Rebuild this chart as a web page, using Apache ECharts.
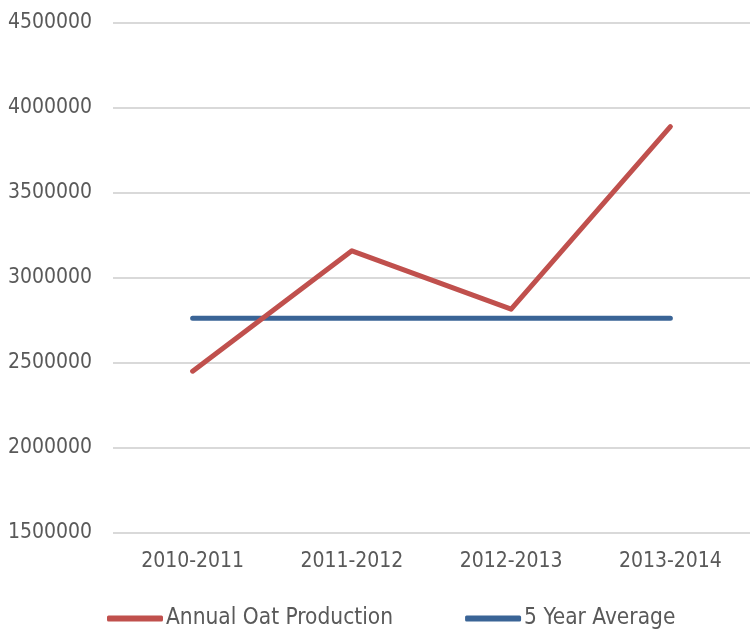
<!DOCTYPE html>
<html>
<head>
<meta charset="utf-8">
<script src="https://cdn.jsdelivr.net/npm/echarts@6/dist/echarts.min.js"></script>
<style>html,body{margin:0;padding:0;background:#fff}#c{width:755px;height:633px}</style>
</head>
<body>
<div id="c"></div>
<script>
var categories = ["2010-2011", "2011-2012", "2012-2013", "2013-2014"];
var annualOatProduction = [2452000, 3160000, 2817000, 3890000];
var fiveYearAverage = [2763000, 2763000, 2763000, 2763000];
var seriesNames = ["Annual Oat Production", "5 Year Average"];

var FONT = "'DejaVu Sans Condensed', 'Liberation Sans Narrow', sans-serif";
var chart = echarts.init(document.getElementById('c'), null, {renderer: 'canvas'});
chart.setOption({
  animation: false,
  backgroundColor: '#ffffff',
  grid: {left: 113, right: 5, top: 23, bottom: 100, containLabel: false, outerBoundsMode: 'none'},
  legend: {
    top: 607,
    left: 107,
    padding: 0,
    itemWidth: 56,
    itemHeight: 6,
    itemGap: 72,
    icon: 'roundRect',
    textStyle: {fontFamily: FONT, fontSize: 22.5, color: '#595959', padding: [0, 0, 0, -2]},
    data: seriesNames
  },
  xAxis: {
    type: 'category',
    data: categories,
    boundaryGap: true,
    axisLine: {show: false},
    axisTick: {show: false},
    axisLabel: {fontFamily: FONT, fontSize: 21, color: '#595959', margin: 18}
  },
  yAxis: {
    type: 'value',
    min: 1500000,
    max: 4500000,
    interval: 500000,
    axisLine: {show: false},
    axisTick: {show: false},
    axisLabel: {fontFamily: FONT, fontSize: 21, color: '#595959', margin: 21, formatter: function (v) { return String(v); }},
    splitLine: {lineStyle: {color: '#d9d9d9', width: 2}}
  },
  series: [
    {
      name: seriesNames[0],
      type: 'line',
      data: annualOatProduction,
      showSymbol: false,
      symbol: 'none',
      lineStyle: {color: '#c0504d', width: 5, cap: 'round', join: 'round'},
      itemStyle: {color: '#c0504d'},
      z: 3
    },
    {
      name: seriesNames[1],
      type: 'line',
      data: fiveYearAverage,
      showSymbol: false,
      symbol: 'none',
      lineStyle: {color: '#3a6496', width: 5, cap: 'round'},
      itemStyle: {color: '#3a6496'},
      z: 2
    }
  ]
});
</script>
</body>
</html>
